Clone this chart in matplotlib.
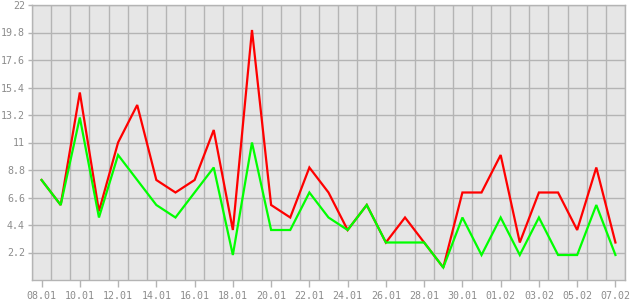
import matplotlib
matplotlib.use("Agg")
import matplotlib.pyplot as plt
import numpy as np

dates = ["08.01", "09.01", "10.01", "11.01", "12.01", "13.01", "14.01", "15.01",
         "16.01", "17.01", "18.01", "19.01", "20.01", "21.01", "22.01", "23.01",
         "24.01", "25.01", "26.01", "27.01", "28.01", "29.01", "30.01", "31.01",
         "01.02", "02.02", "03.02", "04.02", "05.02", "06.02", "07.02"]
red = [8, 6, 15, 5.5, 11, 14, 8, 7, 8, 12, 4, 20, 6, 5, 9, 7, 4, 6, 3, 5, 3, 1,
       7, 7, 10, 3, 7, 7, 4, 9, 3]
green = [8, 6, 13, 5, 10, 8, 6, 5, 7, 9, 2, 11, 4, 4, 7, 5, 4, 6, 3, 3, 3, 1,
         5, 2, 5, 2, 5, 2, 2, 6, 2]
yticks = [2.2, 4.4, 6.6, 8.8, 11, 13.2, 15.4, 17.6, 19.8, 22]

fig = plt.figure(figsize=(6.3, 3.0), dpi=100)
fig.patch.set_facecolor("white")
ax = fig.add_axes([32/630, 20/300, 593/630, 275/300])
ax.set_facecolor("#e6e6e6")

x = np.arange(len(dates))
ax.plot(x, red, color="#ff0000", lw=1.6, zorder=3, solid_joinstyle="miter")
ax.plot(x, green, color="#00ff00", lw=1.6, zorder=4, solid_joinstyle="miter")

ax.set_xlim(-0.5, len(dates) - 0.5)
ax.set_ylim(0, 22)

grid_c = "#b4b4b4"
ax.set_xticks(x[::2])
ax.set_xticklabels(dates[::2])
ax.set_xticks(np.arange(-0.5, len(dates), 1.0), minor=True)
ax.set_yticks(yticks)
ax.set_yticklabels([f"{v:g}" for v in yticks])

ax.grid(False)
ax.xaxis.grid(True, which="minor", color=grid_c, lw=1.0)
ax.yaxis.grid(True, which="major", color=grid_c, lw=1.0)
ax.set_axisbelow(True)

for s in ax.spines.values():
    s.set_color(grid_c)
    s.set_linewidth(1.0)

font = "DejaVu Sans Mono"
ax.tick_params(axis="x", which="major", length=5, width=1, color=grid_c,
               labelcolor="#8c8c8c", labelsize=7.2, pad=3)
ax.tick_params(axis="x", which="minor", length=0)
ax.tick_params(axis="y", which="major", length=3, width=1, color=grid_c,
               labelcolor="#8c8c8c", labelsize=7.2, pad=2)
for lbl in ax.get_xticklabels() + ax.get_yticklabels():
    lbl.set_family(font)

fig.savefig("out.png", dpi=100)
